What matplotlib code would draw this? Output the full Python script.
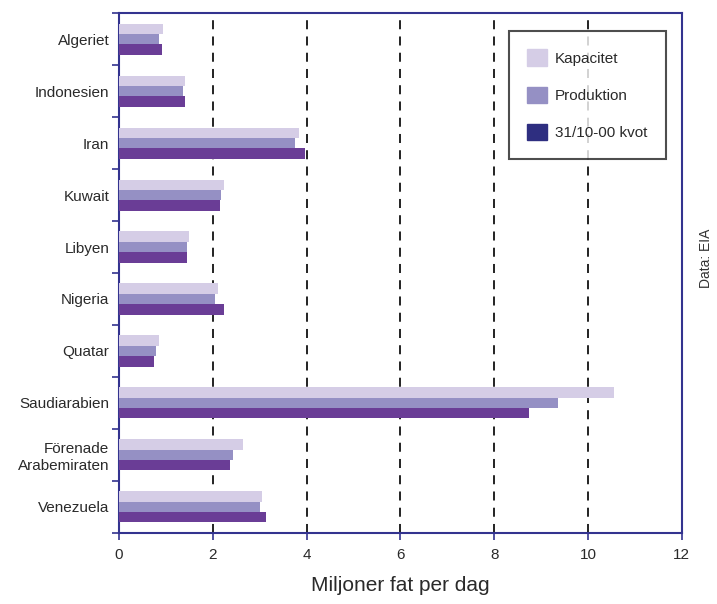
import matplotlib.pyplot as plt
import numpy as np
from matplotlib.patches import Patch

countries = ["Algeriet", "Indonesien", "Iran", "Kuwait", "Libyen", "Nigeria",
             "Quatar", "Saudiarabien", "Förenade\nArabemiraten", "Venezuela"]
kapacitet = [0.94, 1.41, 3.83, 2.24, 1.49, 2.11, 0.85, 10.55, 2.64, 3.05]
produktion = [0.85, 1.36, 3.76, 2.18, 1.45, 2.05, 0.79, 9.36, 2.43, 3.00]
kvot = [0.92, 1.41, 3.96, 2.15, 1.45, 2.24, 0.75, 8.74, 2.37, 3.13]
x_ticks = [0, 2, 4, 6, 8, 10, 12]

plt.rcParams["font.family"] = ["Liberation Sans", "DejaVu Sans"]

c_kap = "#d5cde6"
c_prod = "#9590c4"
c_kvot = "#6a3d96"
c_kvot_legend = "#2e2e80"
navy = "#33338f"
text_c = "#2a2a2a"

fig = plt.figure(figsize=(7.17, 6.04), dpi=100)
ax = fig.add_axes([0.166, 0.118, 0.785, 0.860])

n = len(countries)
y = np.arange(n)
h = 0.2
ax.barh(y - h, kapacitet, height=h, color=c_kap, zorder=3)
ax.barh(y, produktion, height=h, color=c_prod, zorder=3)
ax.barh(y + h, kvot, height=h, color=c_kvot, zorder=3)

ax.set_ylim(n - 0.5, -0.5)
ax.set_xlim(0, 12)

# category labels sit in the middle, ticks on the group boundaries
ax.set_yticks(y)
ax.set_yticklabels(countries, fontsize=11, color=text_c)
ax.tick_params(axis="y", length=0, pad=7)
ax.set_yticks(np.arange(-0.5, n, 1.0), minor=True)
ax.tick_params(axis="y", which="minor", length=5, color=navy, width=1.2)

ax.set_xticks(x_ticks)
ax.set_xticklabels([str(t) for t in x_ticks], fontsize=11, color=text_c)
ax.tick_params(axis="x", length=5, color=navy, width=1.2, pad=6)

for t in x_ticks[1:-1]:
    ax.axvline(t, color="#111111", linestyle=(0, (5, 4)), linewidth=1.3, zorder=1)

for s in ax.spines.values():
    s.set_color(navy)
    s.set_linewidth(1.5)

ax.set_xlabel("Miljoner fat per dag", fontsize=15, labelpad=10, color=text_c)

handles = [Patch(color=c_kap, label="Kapacitet"),
           Patch(color=c_prod, label="Produktion"),
           Patch(color=c_kvot_legend, label="31/10-00 kvot")]
leg = ax.legend(handles=handles, loc="upper right", bbox_to_anchor=(0.971, 0.966),
                fontsize=11, frameon=True, fancybox=False, borderpad=1.2,
                labelspacing=1.35, handlelength=1.3, handleheight=1.3,
                handletextpad=0.5, borderaxespad=0)
leg.get_frame().set_edgecolor("#222222")
leg.get_frame().set_linewidth(1.5)
for txt in leg.get_texts():
    txt.set_color(text_c)
leg.set_zorder(5)

fig.text(0.985, 0.572, "Data: EIA", rotation=90, fontsize=10,
         ha="center", va="center", color="#333333")

fig.savefig("out.png", dpi=100)
